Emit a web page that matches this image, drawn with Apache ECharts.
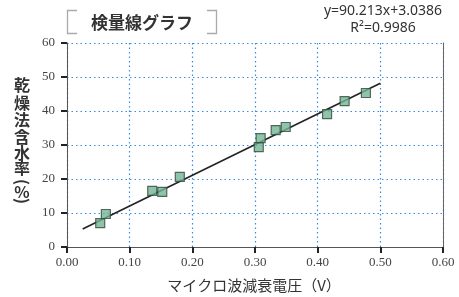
<!DOCTYPE html>
<html><head><meta charset="utf-8">
<script src="https://cdn.jsdelivr.net/npm/echarts@6/dist/echarts.min.js"></script>
<style>html,body{margin:0;padding:0;background:#fff}#c{width:459px;height:297px}</style>
</head><body><div id="c"></div>
<script>
var voltage = [0.053, 0.062, 0.136, 0.152, 0.180, 0.306, 0.309, 0.333, 0.349, 0.415, 0.443, 0.477];
var moisture = [7.0, 9.7, 16.5, 16.2, 20.6, 29.4, 32.0, 34.4, 35.3, 39.1, 42.9, 45.3];
var fitSlope = 90.213, fitIntercept = 3.0386;
var fitRange = [0.025, 0.5];
var xTicks = ['0.00','0.10','0.20','0.30','0.40','0.50','0.60'];
var yTicks = ['0','10','20','30','40','50','60'];
var yNameChars = ['乾','燥','法','含','水','率','(','%',')'];
var yNameY = [85,103,120,137,153,168,182,192,201];

var pts = voltage.map(function(v,i){return [v, moisture[i]];});
var fitLine = fitRange.map(function(x){return [x, fitSlope*x+fitIntercept];});
var chart = echarts.init(document.getElementById('c'));
var serif = '"Liberation Serif", "Times New Roman", "DejaVu Serif", serif';
var grid = {color:'#3a8ae4', type:[1.5,3], width:1.2};
var g = [
  {type:'polyline', shape:{points:[[77,10.5],[67.5,10.5],[67.5,33.5],[77,33.5]]}, style:{stroke:'#aaa', lineWidth:1.3, fill:null}},
  {type:'polyline', shape:{points:[[207,10.5],[216.5,10.5],[216.5,33.5],[207,33.5]]}, style:{stroke:'#aaa', lineWidth:1.3, fill:null}},
  {type:'text', x:142, y:23, style:{text:'検量線グラフ', font:'bold 17px "Noto Sans CJK JP"', fill:'#333', textAlign:'center', textVerticalAlign:'middle'}},
  {type:'text', x:383, y:11, style:{text:'y=90.213x+3.0386', font:'14px "Noto Sans","DejaVu Sans",sans-serif', fill:'#333', textAlign:'center', textVerticalAlign:'middle'}},
  {type:'text', x:383, y:28, style:{text:'R²=0.9986', font:'14px "Noto Sans","DejaVu Sans",sans-serif', fill:'#333', textAlign:'center', textVerticalAlign:'middle'}},
  {type:'text', x:254, y:285, style:{text:'マイクロ波減衰電圧（V）', font:'15px "Noto Sans CJK JP"', fill:'#333', textAlign:'center', textVerticalAlign:'middle'}}
];
yNameChars.forEach(function(ch,i){
  var rot = (ch === '(' || ch === ')') ? -Math.PI/2 : 0;
  g.push({type:'text', x:22, y:yNameY[i], rotation:rot,
    style:{text:ch, font:'bold 16px "Noto Sans CJK JP"', fill:'#333', textAlign:'center', textVerticalAlign:'middle'}});
});
chart.setOption({
  animation:false,
  grid:{left:67, right:16, top:43, bottom:50},
  xAxis:{type:'value', min:0, max:0.6, interval:0.1,
    axisLine:{lineStyle:{color:'#555', width:1}},
    axisTick:{show:true, length:6, lineStyle:{color:'#222', width:2}},
    axisLabel:{margin:9, fontFamily:serif, fontSize:13, color:'#444',
      formatter:function(v){return xTicks[Math.round(v*10)];}},
    splitLine:{show:true, lineStyle:grid}
  },
  yAxis:[{type:'value', min:0, max:60, interval:10,
    axisLine:{show:true, lineStyle:{color:'#555', width:1}},
    axisTick:{show:true, length:6, lineStyle:{color:'#222', width:2}},
    axisLabel:{margin:12, fontFamily:serif, fontSize:13, color:'#444',
      formatter:function(v){return yTicks[Math.round(v/10)];}},
    splitLine:{show:true, lineStyle:grid}
  },{type:'value', min:0, max:60, position:'right',
    axisLine:{show:true, lineStyle:{color:'#666', width:1}},
    axisTick:{show:false}, axisLabel:{show:false}, splitLine:{show:false}
  }],
  series:[
    {type:'line', data:fitLine, symbol:'none', lineStyle:{color:'#222', width:1.6}, z:2},
    {type:'scatter', data:pts, symbol:'rect', symbolSize:9,
      itemStyle:{color:'#74b595', borderColor:'#2f4a3c', borderWidth:1.2}, z:3}
  ],
  graphic:g
});
</script></body></html>
